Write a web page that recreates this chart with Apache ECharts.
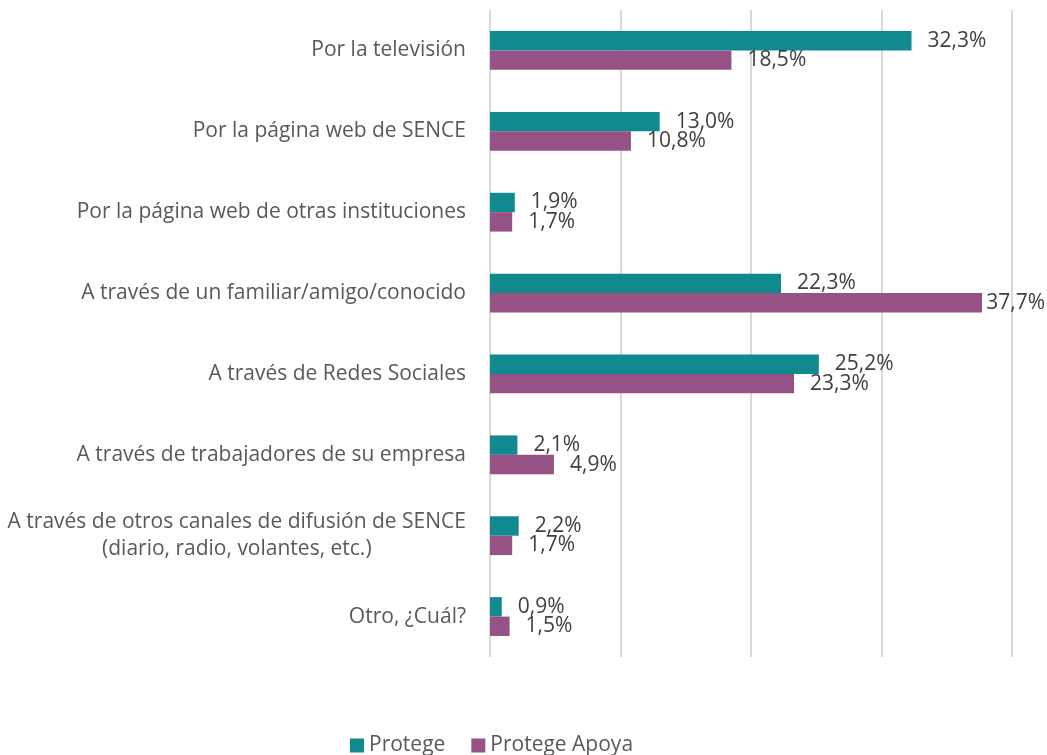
<!DOCTYPE html>
<html>
<head>
<meta charset="utf-8">
<script src="https://cdn.jsdelivr.net/npm/echarts@6/dist/echarts.min.js"></script>
<style>html,body{margin:0;padding:0;background:#fff}#c{width:1047px;height:755px}</style>
</head>
<body>
<div id="c"></div>
<script>
var categories = [
  "Por la televisión",
  "Por la página web de SENCE",
  "Por la página web de otras instituciones",
  "A través de un familiar/amigo/conocido",
  "A través de Redes Sociales",
  "A través de trabajadores de su empresa",
  "A través de otros canales de difusión de SENCE\n(diario, radio, volantes, etc.)",
  "Otro, ¿Cuál?"
];
var seriesNames = ["Protege", "Protege Apoya"];
var protege = [32.3, 13.0, 1.9, 22.3, 25.2, 2.1, 2.2, 0.9];
var protegeApoya = [18.5, 10.8, 1.7, 37.7, 23.3, 4.9, 1.7, 1.5];
var colors = ["#10898F", "#975285"];

var font = "'Open Sans', sans-serif";
var FS = 21;
function fmt(p){ return p.value.toFixed(1).replace('.', ',') + '%'; }
var labelCfg = {
  show: true, position: 'right', distance: 16,
  formatter: fmt, color: '#404040', fontSize: FS, fontFamily: font
};
var W = 1047;
function keepInside(params) {
  var r = params.labelRect;
  if (r.x + r.width > W - 2) {
    return { x: W - 2 - r.width, y: r.y + r.height / 2, align: 'left', verticalAlign: 'middle' };
  }
  return {};
}

var chart = echarts.init(document.getElementById('c'));
chart.setOption({
  animation: false,
  textStyle: { fontFamily: font },
  grid: { left: 490, right: 35, top: 10, bottom: 98, containLabel: false },
  legend: {
    bottom: -6, left: 345, itemWidth: 14, itemHeight: 14, itemGap: 26,
    icon: 'rect',
    textStyle: { color: '#595959', fontSize: FS, fontFamily: font },
    data: seriesNames
  },
  xAxis: {
    type: 'value', min: 0, max: 40, interval: 10,
    axisLabel: { show: false }, axisLine: { show: false }, axisTick: { show: false },
    splitLine: { show: true, lineStyle: { color: '#D9D9D9', width: 2 } }
  },
  yAxis: {
    type: 'category', inverse: true, data: categories,
    axisLine: { show: false }, axisTick: { show: false },
    axisLabel: {
      margin: 24, color: '#595959', fontSize: FS, fontFamily: font, lineHeight: 27,
      formatter: function (v) {
        return v.split('\n').map(function (s) { return '{c|' + s + '}'; }).join('\n');
      },
      rich: { c: { align: 'center', color: '#595959', fontSize: FS, fontFamily: font, lineHeight: 27 } }
    }
  },
  series: [
    { name: seriesNames[0], type: 'bar', data: protege, itemStyle: { color: colors[0] },
      barGap: '0%', barCategoryGap: '52%', label: labelCfg, labelLayout: keepInside },
    { name: seriesNames[1], type: 'bar', data: protegeApoya, itemStyle: { color: colors[1] },
      barGap: '0%', barCategoryGap: '52%', label: labelCfg, labelLayout: keepInside }
  ]
});
</script>
</body>
</html>
